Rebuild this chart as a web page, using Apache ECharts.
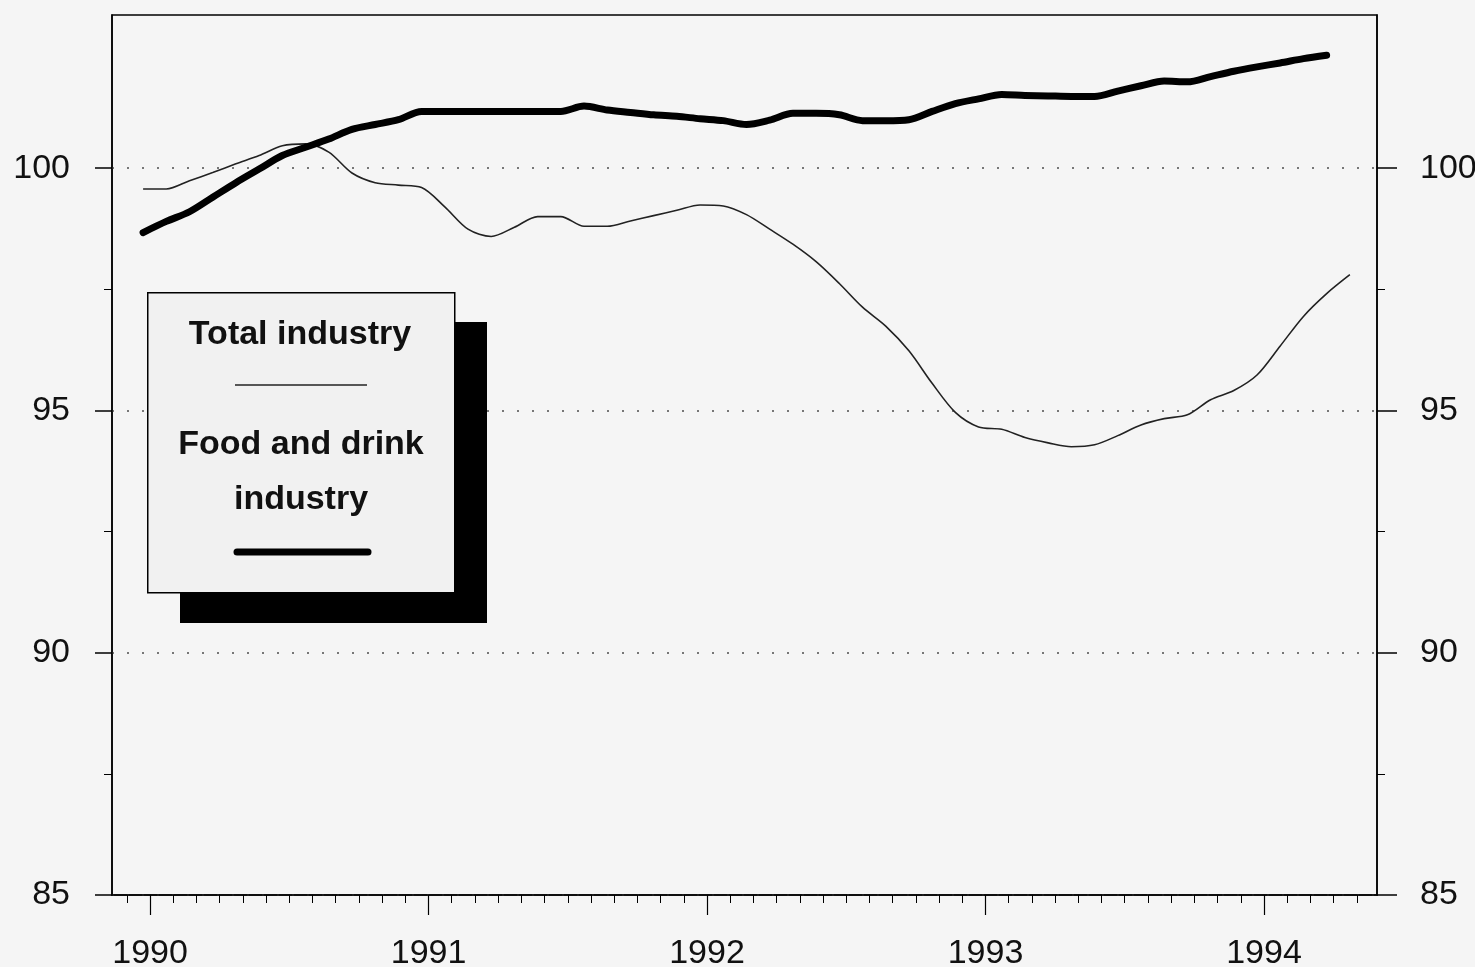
<!DOCTYPE html>
<html>
<head>
<meta charset="utf-8">
<script src="https://cdn.jsdelivr.net/npm/echarts@6/dist/echarts.min.js"></script>
<style>
html,body{margin:0;padding:0;background:#f5f5f5}
#chart{width:1475px;height:967px}
</style>
</head>
<body>
<div id="chart"></div>
<script>
// month index: 0 = start of 1990, data starts just before it
const firstMonth = -0.3;
const years = [1990, 1991, 1992, 1993, 1994];
const yTicks = [85, 90, 95, 100];
const yMinorTicks = [87.5, 92.5, 97.5];
const names = ['Total industry', 'Food and drink industry'];

// Total industry (thin line), monthly
const totalIndustry = [
	99.57, 99.57, 99.74, 99.91, 100.09, 100.26, 100.46, 100.5, 100.33, 99.9,
	99.7, 99.65, 99.6, 99.2, 98.74, 98.59, 98.78, 99.0, 99.0, 98.8,
	98.8, 98.91, 99.02, 99.13, 99.24, 99.22, 99.04, 98.74, 98.43, 98.07,
	97.62, 97.13, 96.74, 96.23, 95.56, 94.96, 94.66, 94.61, 94.44, 94.33,
	94.25, 94.29, 94.48, 94.7, 94.83, 94.91, 95.22, 95.41, 95.73, 96.33,
	96.94, 97.41, 97.8
];
// Food and drink industry (thick line), monthly
const foodDrink = [
	98.67, 98.9, 99.1, 99.4, 99.7, 99.98, 100.26, 100.43, 100.6, 100.8,
	100.9, 101.0, 101.17, 101.17, 101.17, 101.17, 101.17, 101.17, 101.17, 101.28,
	101.2, 101.15, 101.1, 101.07, 101.02, 100.98, 100.9, 100.99, 101.13, 101.13,
	101.1, 100.98, 100.98, 101.0, 101.17, 101.33, 101.43, 101.52, 101.5, 101.49,
	101.48, 101.48, 101.59, 101.7, 101.8, 101.78, 101.89, 102.0, 102.09, 102.17,
	102.26, 102.33
];

const toPairs = arr => arr.map((v, i) => [firstMonth + i, v]);
const yearTicks = years.map((y, i) => i * 12);
const monthTicks = [];
for (let m = -1; m <= 52; m++) monthTicks.push(m);

const font = 'Liberation Sans, Arial, Helvetica, sans-serif';
const xMin = -1.64, xMax = 52.87;
const yMin = 85, yMax = 103.16;

const myChart = echarts.init(document.getElementById('chart'));

const option = {
	backgroundColor: '#f5f5f5',
	animation: false,
	grid: {
		left: 112, right: 98, top: 15, bottom: 72,
		outerBoundsMode: 'none',
		show: true, borderColor: '#000', borderWidth: 1.5,
		backgroundColor: 'transparent'
	},
	xAxis: [
		{
			type: 'value', min: xMin, max: xMax, position: 'bottom',
			axisLine: { show: true, onZero: false, lineStyle: { color: '#000', width: 1.5 } },
			axisTick: { show: true, customValues: yearTicks, length: 20,
				lineStyle: { color: '#000', width: 1.2 } },
			axisLabel: { customValues: yearTicks, margin: 42, fontSize: 34, color: '#111', fontFamily: font,
				formatter: v => String(1990 + Math.round(v / 12)) },
			splitLine: { show: false }
		},
		{
			type: 'value', min: xMin, max: xMax, position: 'bottom',
			axisLine: { show: false, onZero: false },
			axisTick: { show: true, customValues: monthTicks, length: 8,
				lineStyle: { color: '#000', width: 1 } },
			axisLabel: { show: false },
			splitLine: { show: false }
		}
	],
	yAxis: [
		{
			type: 'value', min: yMin, max: yMax, position: 'left',
			axisLine: { show: true, onZero: false, lineStyle: { color: '#000', width: 1.5 } },
			axisTick: { show: true, customValues: yTicks, length: 17, lineStyle: { color: '#000', width: 1.5 } },
			axisLabel: { customValues: yTicks, margin: 42, fontSize: 34, color: '#111', fontFamily: font },
			splitLine: { show: true, lineStyle: { color: '#777', width: 2, type: [2, 13] } }
		},
		{
			type: 'value', min: yMin, max: yMax, position: 'right',
			axisLine: { show: true, onZero: false, lineStyle: { color: '#000', width: 1.5 } },
			axisTick: { show: true, customValues: yTicks, length: 20, lineStyle: { color: '#000', width: 1.5 } },
			axisLabel: { customValues: yTicks, margin: 43, fontSize: 34, color: '#111', fontFamily: font },
			splitLine: { show: false }
		},
		{
			type: 'value', min: yMin, max: yMax, position: 'left',
			axisLine: { show: false, onZero: false },
			axisTick: { show: true, customValues: yMinorTicks, length: 8, lineStyle: { color: '#000', width: 1 } },
			axisLabel: { show: false },
			splitLine: { show: false }
		},
		{
			type: 'value', min: yMin, max: yMax, position: 'right',
			axisLine: { show: false, onZero: false },
			axisTick: { show: true, customValues: yMinorTicks, length: 8, lineStyle: { color: '#000', width: 1 } },
			axisLabel: { show: false },
			splitLine: { show: false }
		}
	],
	series: [
		{
			name: names[0], type: 'line', xAxisIndex: 0, yAxisIndex: 0,
			data: toPairs(totalIndustry),
			symbol: 'none', smooth: 0.3,
			lineStyle: { color: '#222', width: 1.6 }
		},
		{
			name: names[1], type: 'line', xAxisIndex: 0, yAxisIndex: 0,
			data: toPairs(foodDrink),
			symbol: 'none', smooth: 0.3,
			lineStyle: { color: '#000', width: 7, cap: 'round', join: 'round' }
		}
	],
	// hand drawn legend box with black shadow
	graphic: [
		{ type: 'rect', left: 180, top: 322, shape: { width: 307, height: 301 }, style: { fill: '#000' }, z: 10 },
		{ type: 'rect', left: 147, top: 292, shape: { width: 307, height: 300 },
			style: { fill: '#f1f1f1', stroke: '#000', lineWidth: 1.5 }, z: 11 },
		{ type: 'text', x: 300, y: 335, z: 12,
			style: { text: 'Total industry', font: 'bold 34px ' + font, fill: '#111', align: 'center', verticalAlign: 'middle' } },
		{ type: 'line', z: 12, shape: { x1: 235, y1: 385, x2: 367, y2: 385 }, style: { stroke: '#222', lineWidth: 1.6 } },
		{ type: 'text', x: 301, y: 445, z: 12,
			style: { text: 'Food and drink', font: 'bold 34px ' + font, fill: '#111', align: 'center', verticalAlign: 'middle' } },
		{ type: 'text', x: 301, y: 500, z: 12,
			style: { text: 'industry', font: 'bold 34px ' + font, fill: '#111', align: 'center', verticalAlign: 'middle' } },
		{ type: 'line', z: 12, shape: { x1: 237, y1: 552, x2: 368, y2: 552 },
			style: { stroke: '#000', lineWidth: 7, lineCap: 'round' } }
	]
};

myChart.setOption(option);
</script>
</body>
</html>
